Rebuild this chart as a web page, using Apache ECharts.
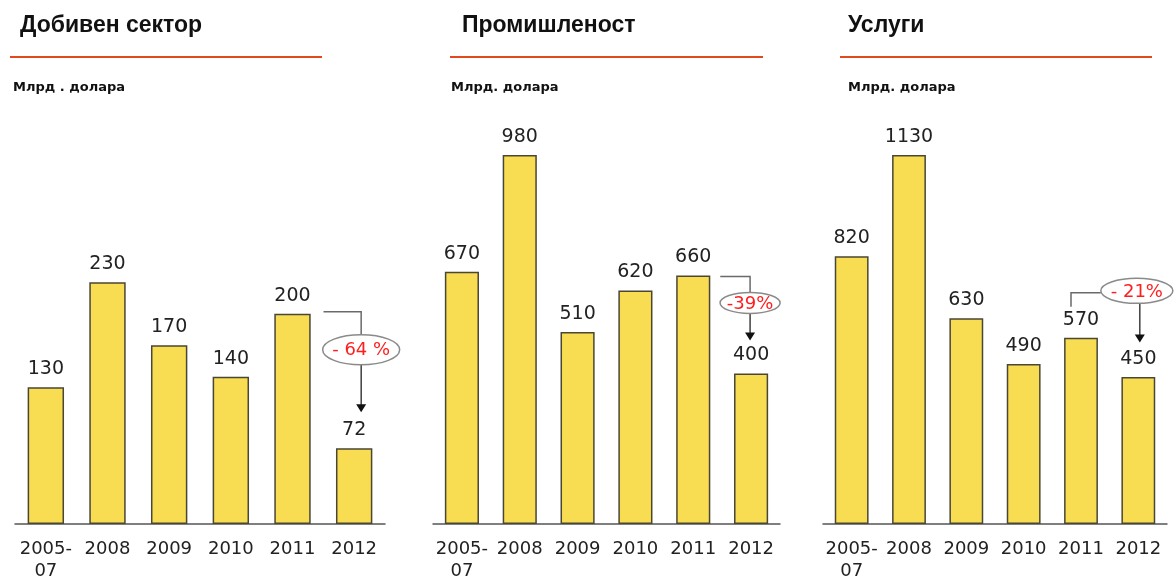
<!DOCTYPE html>
<html>
<head>
<meta charset="utf-8">
<script src="https://cdn.jsdelivr.net/npm/echarts@6/dist/echarts.min.js"></script>
<style>
  html, body { margin: 0; padding: 0; background: #fff; }
  #chart { width: 1176px; height: 576px; }
</style>
</head>
<body>
<div id="chart"></div>
<script>
// data
const categories = ['2005-\n07', '2008', '2009', '2010', '2011', '2012'];
const miningValues = [130, 230, 170, 140, 200, 72];
const industryValues = [670, 980, 510, 620, 660, 400];
const servicesValues = [820, 1130, 630, 490, 570, 450];
const panelTitles = ['Добивен сектор', 'Промишленост', 'Услуги'];
const unitLabels = ['Млрд . долара', 'Млрд. долара', 'Млрд. долара'];
const changeLabels = ['- 64 %', '-39%', '- 21%'];

const panelValues = [miningValues, industryValues, servicesValues];
const axisMax = [351, 980, 1130];          // each panel has its own scale
const grids = [
  { left: 15, width: 370 },
  { left: 433, width: 347 },
  { left: 823, width: 344 }
];
const titleX = [15, 457, 843];   // title has 5px padding
const ruleX = [[10, 322], [450, 763], [840, 1152]];
const unitX = [8, 446, 843];

const fontFam = '"DejaVu Sans", sans-serif';

const chart = echarts.init(document.getElementById('chart'));

let option = {
  animation: false,
  backgroundColor: '#fff',
  title: [],
  grid: [],
  xAxis: [],
  yAxis: [],
  series: [],
  graphic: []
};

panelValues.forEach((vals, i) => {
  option.title.push({
    text: panelTitles[i],
    left: titleX[i],
    top: 9,
    textStyle: { fontFamily: '"Liberation Sans", Arial, sans-serif', fontSize: 23, fontWeight: 'bold', color: '#111' }
  });
  option.title.push({
    text: unitLabels[i],
    left: unitX[i],
    top: 76,
    textStyle: { fontFamily: fontFam, fontSize: 13, fontWeight: 'bold', color: '#111' }
  });
  option.grid.push({
    left: grids[i].left,
    width: grids[i].width,
    top: 155,
    bottom: 52,
    outerBoundsMode: 'none'
  });
  option.xAxis.push({
    type: 'category',
    gridIndex: i,
    data: categories,
    axisTick: { show: false },
    axisLine: { lineStyle: { color: '#555', width: 1.5 } },
    axisLabel: { color: '#222', fontFamily: fontFam, fontSize: 18, lineHeight: 22, margin: 14, interval: 0 }
  });
  option.yAxis.push({ type: 'value', gridIndex: i, min: 0, max: axisMax[i], show: false });
  option.series.push({
    type: 'bar',
    xAxisIndex: i,
    yAxisIndex: i,
    data: vals,
    barWidth: '59%',
    itemStyle: { color: '#f8dc52', borderColor: '#4a4634', borderWidth: 1.5 },
    label: {
      show: true,
      position: 'top',
      distance: 8,
      color: '#222',
      fontFamily: fontFam,
      fontSize: 19,
      lineHeight: 20
    }
  });
  // orange rule under the title
  option.graphic.push({
    type: 'line',
    shape: { x1: ruleX[i][0], y1: 57, x2: ruleX[i][1], y2: 57 },
    style: { stroke: '#e04a1c', lineWidth: 2 }
  });
});

chart.setOption(option);

// change notes between 2011 and 2012 (offsets relative to the bars)
const notes = [
  { mode: 'right', ax: 7, lineDy: -2, lx: 31, ey: 36, rx: 38.5, ry: 15, tip: 36 },
  { mode: 'right', ax: -1, lineDy: 1, lx: 27, ey: 27.5, rx: 30, ry: 10.5, tip: 33 },
  { mode: 'left', ax: 1.5, ey: -47, rx: 36, ry: 12.5, tip: 34.5, lx: -10, drop: -31 }
];

function drawNotes() {
  const g = option.graphic.slice();
  panelValues.forEach((vals, i) => {
    const n = notes[i];
    const p11 = chart.convertToPixel({ seriesIndex: i }, [4, vals[4]]);
    const p12 = chart.convertToPixel({ seriesIndex: i }, [5, vals[5]]);
    const ax = p12[0] + n.ax;
    let cx, cy, conn;
    if (n.mode === 'right') {
      cx = ax;
      cy = p11[1] + n.ey;
      const ly = p11[1] + n.lineDy;
      conn = [[p11[0] + n.lx, ly], [ax, ly], [ax, cy - n.ry]];
    } else {
      cx = ax - 3;
      cy = p11[1] + n.ey;
      conn = [[cx - n.rx, cy + 2], [p11[0] + n.lx, cy + 2], [p11[0] + n.lx, p11[1] + n.drop]];
    }
    const tipY = p12[1] - n.tip;
    g.push({ type: 'polyline', shape: { points: conn }, style: { stroke: '#6a6a6a', lineWidth: 1.5, fill: null } });
    g.push({ type: 'line', shape: { x1: ax, y1: cy + n.ry, x2: ax, y2: tipY - 7 }, style: { stroke: '#222', lineWidth: 1.3 } });
    g.push({ type: 'polygon', shape: { points: [[ax - 5, tipY - 8], [ax + 5, tipY - 8], [ax, tipY]] }, style: { fill: '#111' } });
    g.push({
      type: 'ellipse',
      shape: { cx: cx, cy: cy, rx: n.rx, ry: n.ry },
      style: { fill: '#fff', stroke: '#8a8a8a', lineWidth: 1.5 }
    });
    g.push({
      type: 'text',
      x: cx,
      y: cy + 1,
      style: {
        text: changeLabels[i],
        fill: '#ff1e1e',
        font: '18px ' + fontFam,
        align: 'center',
        verticalAlign: 'middle'
      }
    });
  });
  chart.setOption({ graphic: g }, { replaceMerge: ['graphic'] });
}

drawNotes();
</script>
</body>
</html>
